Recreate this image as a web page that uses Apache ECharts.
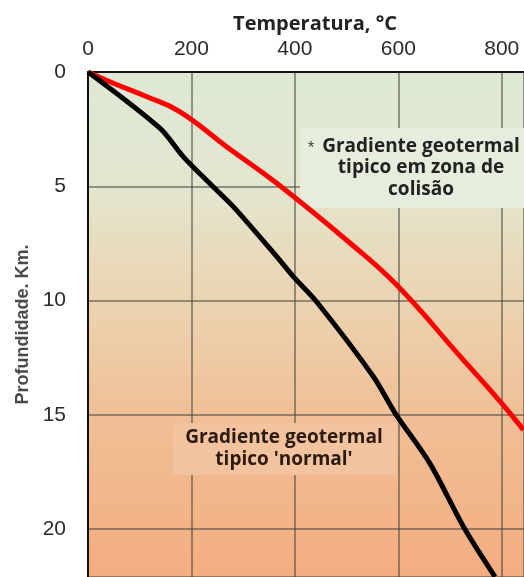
<!DOCTYPE html>
<html>
<head>
<meta charset="utf-8">
<script src="https://cdn.jsdelivr.net/npm/echarts@6/dist/echarts.min.js"></script>
<style>
html,body{margin:0;padding:0;background:#fff;}
#chart{width:524px;height:577px;}
</style>
</head>
<body>
<div id="chart"></div>
<script>
// Data
const normalTemp  = [0, 139, 184, 242, 281, 365, 397, 442, 552, 594, 661, 726, 787];
const normalDepth = [0, 2.46, 3.7, 5.02, 5.89, 8.08, 8.95, 10.05, 13.33, 14.93, 17.12, 19.89, 22.08];
const collisionTemp  = [0, 49, 114, 178, 268, 365, 507, 597, 720, 800, 842];
const collisionDepth = [0, 0.49, 1.08, 1.74, 3.27, 4.87, 7.49, 9.32, 12.45, 14.49, 15.66];
const tempTicks = [0, 200, 400, 600, 800];
const depthTicks = [0, 5, 10, 15, 20];
const xTitle = 'Temperatura, °C';
const yTitle = 'Profundidade. Km.';
const noteCollision = 'Gradiente geotermal\ntipico em zona de\ncolisão';
const noteNormal = "Gradiente geotermal\ntipico 'normal'";

const toPairs = (xs, ys) => xs.map((v, i) => [v, ys[i]]);

const chart = echarts.init(document.getElementById('chart'), null, {renderer: 'canvas'});
const option = {
  animation: false,
  backgroundColor: '#ffffff',
  grid: {
    left: 88, top: 72, right: 0, bottom: 0,
    show: true, borderWidth: 0,
    backgroundColor: new echarts.graphic.LinearGradient(0, 0, 0, 1, [
      {offset: 0, color: '#dde9d4'},
      {offset: 0.22, color: '#e3e6cf'},
      {offset: 0.45, color: '#ebd4b2'},
      {offset: 0.68, color: '#f0bf96'},
      {offset: 1, color: '#f3ad80'}
    ])
  },
  xAxis: {
    type: 'value', position: 'top', min: 0, max: 843, interval: 200,
    name: xTitle, nameLocation: 'middle', nameGap: 38,
    nameTextStyle: {fontFamily: 'Open Sans', fontWeight: 'bold', fontSize: 20, color: '#222', padding: [0, 0, 0, 18]},
    axisLine: {show: true, lineStyle: {color: '#111', width: 2}},
    axisTick: {show: false},
    axisLabel: {
      showMaxLabel: false, margin: 12,
      fontFamily: 'Liberation Sans', fontSize: 21, color: '#2a2a2a',
      formatter: v => tempTicks.includes(v) ? String(v) : ''
    },
    splitLine: {show: true, lineStyle: {color: 'rgba(70,70,60,0.7)', width: 1.5}}
  },
  yAxis: {
    type: 'value', inverse: true, min: 0, max: 22.09, interval: 5,
    name: yTitle, nameLocation: 'middle', nameGap: 56, nameRotate: 90,
    nameTextStyle: {fontFamily: 'Liberation Sans', fontWeight: 'bold', fontSize: 18, color: '#4a4a4a'},
    axisLine: {show: true, lineStyle: {color: '#111', width: 2}},
    axisTick: {show: false},
    axisLabel: {
      showMaxLabel: false, margin: 22,
      fontFamily: 'Liberation Sans', fontSize: 21, color: '#2a2a2a',
      formatter: v => depthTicks.includes(v) ? String(v) : ''
    },
    splitLine: {show: true, lineStyle: {color: 'rgba(70,70,60,0.7)', width: 1.5}}
  },
  series: [
    {
      type: 'line', name: 'colisão', data: toPairs(collisionTemp, collisionDepth),
      showSymbol: false, smooth: 0.45, clip: true,
      lineStyle: {color: '#ff0000', width: 5}, z: 10
    },
    {
      type: 'line', name: 'normal', data: toPairs(normalTemp, normalDepth),
      showSymbol: false, smooth: 0.3, clip: true,
      lineStyle: {color: '#000000', width: 5}, z: 11
    }
  ],
  graphic: [
    {
      type: 'rect', shape: {x: 300, y: 128, width: 224, height: 80},
      style: {fill: '#e7eddd'}, z: 5
    },
    {
      type: 'text', x: 311, y: 147, z: 6,
      style: {text: '*', fontFamily: 'Open Sans', fontSize: 13, fill: '#333', align: 'center', verticalAlign: 'middle'}
    },
    {
      type: 'text', x: 421, y: 168, z: 6,
      style: {
        text: noteCollision, fontFamily: 'Open Sans', fontWeight: 'bold', fontSize: 19,
        lineHeight: 21.5, fill: '#222', align: 'center', verticalAlign: 'middle'
      }
    },
    {
      type: 'rect', shape: {x: 173, y: 423, width: 224, height: 52},
      style: {fill: '#f3c29e'}, z: 5
    },
    {
      type: 'text', x: 284, y: 449, z: 6,
      style: {
        text: noteNormal, fontFamily: 'Open Sans', fontWeight: 'bold', fontSize: 19,
        lineHeight: 22, fill: '#2b1a0e', align: 'center', verticalAlign: 'middle'
      }
    }
  ]
};
chart.setOption(option);
</script>
</body>
</html>
